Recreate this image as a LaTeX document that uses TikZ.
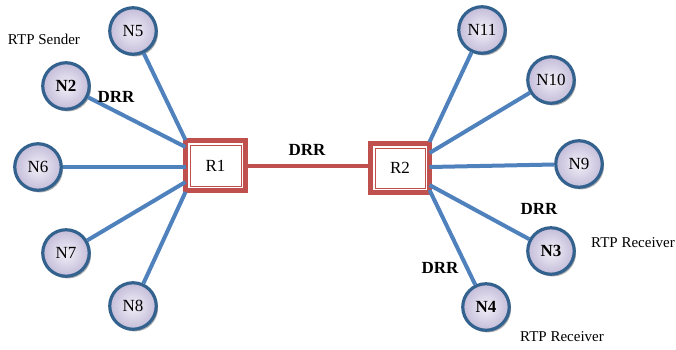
\documentclass[tikz,border=0pt]{standalone}
\usepackage{fontspec}
\setmainfont{Liberation Serif}
\usetikzlibrary{calc,shadows}
\definecolor{linkblue}{HTML}{4F81BD}
\definecolor{ringblue}{HTML}{34628F}
\definecolor{routerred}{HTML}{C0504D}
\definecolor{ballin}{HTML}{F2F0F8}
\definecolor{ballout}{HTML}{C4BCD9}
\tikzset{
  host/.style={circle, minimum size=46.5pt, inner sep=0pt, line width=3.2pt, draw=ringblue,
    inner color=ballin, outer color=ballout, font=\fontsize{17}{17}\selectfont,
    drop shadow={shadow xshift=1.8pt, shadow yshift=-2.2pt, fill=black!40, opacity=0.8}},
  router/.style={rectangle, draw=routerred, line width=5pt, fill=white, outer sep=0pt,
    font=\fontsize{17}{17}\selectfont},
  link/.style={draw=linkblue, line width=4pt},
  trunk/.style={draw=routerred, line width=4pt},
  tag/.style={font=\bfseries\fontsize{17}{17}\selectfont},
  note/.style={font=\fontsize{15}{15}\selectfont}
}
\begin{document}
\begin{tikzpicture}[x=1pt,y=-1pt]
\useasboundingbox (0,0) rectangle (676,349);
% routers
\node[router, minimum width=60pt, minimum height=50pt] (r1) at (215.5,165.5) {R1};
\node[router, minimum width=59pt, minimum height=49pt] (r2) at (400,168) {R2};
\draw[routerred, line width=0.8pt] ($(r1.north west)+(4.4,4.4)$) rectangle ($(r1.south east)+(-4.4,-4.4)$);
\draw[routerred, line width=0.8pt] ($(r2.north west)+(4.4,4.4)$) rectangle ($(r2.south east)+(-4.4,-4.4)$);
% hosts
\node[host] (n5) at (133,31) {N5};
\node[host] (n2) at (66,86) {\textbf{N2}};
\node[host] (n6) at (38,167) {N6};
\node[host] (n7) at (66,253) {N7};
\node[host] (n8) at (133,306) {N8};
\node[host] (n11) at (482,30) {N11};
\node[host] (n10) at (551,80) {N10};
\node[host] (n9) at (579,164) {N9};
\node[host] (n3) at (551,251) {\textbf{N3}};
\node[host] (n4) at (486,307) {\textbf{N4}};
% links
\draw[trunk] (r1.east) -- (r1.east -| r2.west);
\draw[link] (n5) -- ($(r1.west)+(0,-25.5)$);
\draw[link] (n2) -- ($(r1.west)+(0,-18.5)$);
\draw[link] (n6) -- (n6 -| r1.west);
\draw[link] (n7) -- ($(r1.west)+(0,16.5)$);
\draw[link] (n8) -- ($(r1.west)+(0,26.5)$);
\draw[link] (n11) -- ($(r2.east)+(0,-26)$);
\draw[link] (n10) -- ($(r2.east)+(0,-15)$);
\draw[link] (n9) -- ($(r2.east)+(0,-1)$);
\draw[link] (n3) -- ($(r2.east)+(0,17)$);
\draw[link] (n4) -- ($(r2.east)+(0,22)$);
% labels
\node[note] (ls) at (44,39) {RTP Sender};
\node[tag] (d2) at (116,97) {DRR};
\node[tag] (d12) at (307,150) {DRR};
\node[tag] (d3) at (539,209) {DRR};
\node[tag] (d4) at (440,268) {DRR};
\node[note] (lr3) at (633,243) {RTP Receiver};
\node[note] (lr4) at (562,337) {RTP Receiver};
\end{tikzpicture}
\end{document}
